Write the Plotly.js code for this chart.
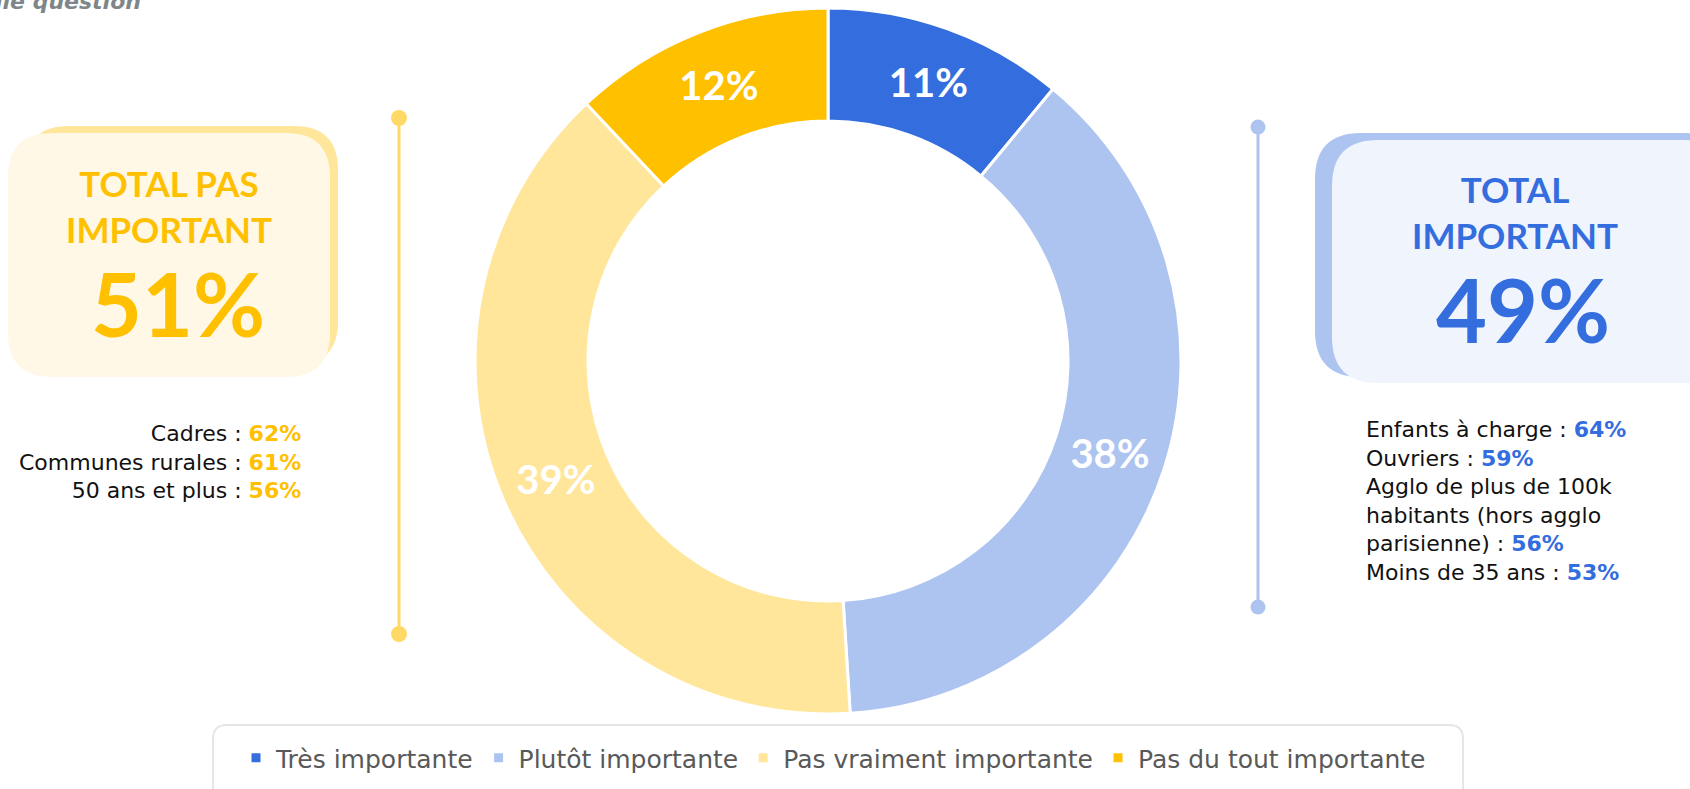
<!DOCTYPE html>
<html>
<head>
<meta charset="utf-8">
<script src="https://cdn.plot.ly/plotly-3.0.1.min.js"></script>
<style>
  html, body { margin: 0; padding: 0; background: #fff; }
  #graph { width: 1690px; height: 789px; }
</style>
</head>
<body>
<div id="graph"></div>
<script>
// answers, in %
var categories = ['Très importante', 'Plutôt importante', 'Pas vraiment importante', 'Pas du tout importante'];
var shares = [11, 38, 39, 12];
var colors = ['#346DDE', '#ADC4F1', '#FFE69A', '#FFC000'];

// sub-groups above average
var pasGroups = ['Cadres', 'Communes rurales', '50 ans et plus'];
var pasValues = [62, 61, 56];
var impGroups = ['Enfants à charge', 'Ouvriers', 'Agglo de plus de 100k<br>habitants (hors agglo<br>parisienne)', 'Moins de 35 ans'];
var impValues = [64, 59, 56, 53];

var W = 1690, H = 789;
var FONT = '"Century Gothic", Lato, "Noto Sans", sans-serif';
var BODY = '"Century Gothic", "DejaVu Sans", sans-serif';
var GOLD = '#FFC000', BLUE = '#346DDE';

function px(x) { return x / W; }
function py(y) { return 1 - y / H; }

// rounded rectangle as a path in paper coords
function roundRect(x0, y0, x1, y1, r) {
  var p = function (x, y) { return px(x) + ',' + py(y); };
  return 'M' + p(x0 + r, y0) + ' L' + p(x1 - r, y0) + ' Q' + p(x1, y0) + ' ' + p(x1, y0 + r) +
    ' L' + p(x1, y1 - r) + ' Q' + p(x1, y1) + ' ' + p(x1 - r, y1) +
    ' L' + p(x0 + r, y1) + ' Q' + p(x0, y1) + ' ' + p(x0, y1 - r) +
    ' L' + p(x0, y0 + r) + ' Q' + p(x0, y0) + ' ' + p(x0 + r, y0) + ' Z';
}
function box(x0, y0, x1, y1, r, fill, line) {
  return { type: 'path', xref: 'paper', yref: 'paper', layer: 'below', path: roundRect(x0, y0, x1, y1, r),
    fillcolor: fill, line: line || { width: 0 } };
}
function vline(x, y0, y1, color) {
  return { type: 'line', xref: 'paper', yref: 'paper', x0: px(x), x1: px(x), y0: py(y0), y1: py(y1),
    line: { color: color, width: 3 } };
}
function dot(x, y, r, color) {
  return { type: 'circle', xref: 'paper', yref: 'paper', x0: px(x - r), x1: px(x + r), y0: py(y + r), y1: py(y - r),
    fillcolor: color, line: { width: 0 } };
}
function groupLines(groups, values, color) {
  return groups.map(function (g, i) {
    return g + ' : <b><span style="color:' + color + '">' + values[i] + '%</span></b>';
  }).join('<br>');
}

var totalImp = shares[0] + shares[1];
var totalPas = shares[2] + shares[3];

var data = [{
  type: 'pie',
  labels: categories,
  values: shares,
  sort: false,
  direction: 'clockwise',
  rotation: 0,
  hole: 0.68,
  marker: { colors: colors, line: { color: '#ffffff', width: 3 } },
  texttemplate: '%{value}%',
  textposition: 'inside',
  insidetextorientation: 'horizontal',
  textfont: { color: '#ffffff', size: 40, family: FONT, weight: 'bold' },
  hoverinfo: 'label+value',
  domain: { x: [px(475), px(1181)], y: [py(715), py(7)] }
}];

var shapes = [
  // legend frame
  box(213, 725, 1463, 805, 14, '#ffffff', { color: '#E6E6E6', width: 2 }),
  // left card
  box(25, 126, 338, 365, 44, '#FFE69A'),
  box(8, 133, 330, 377, 44, '#FFF8E6'),
  // right card
  box(1315, 133, 1730, 377, 46, '#ADC4F1'),
  box(1332, 140, 1730, 383, 46, '#EFF4FD'),
  vline(399, 118, 634, '#FFD966'),
  dot(399, 118, 8, '#FFD966'),
  dot(399, 634, 8, '#FFD966'),
  vline(1258, 127, 607, '#ADC4F1'),
  dot(1258, 127, 7.5, '#ADC4F1'),
  dot(1258, 607, 7.5, '#ADC4F1')
];

function note(text, x, y, opts) {
  var a = { text: text, x: px(x), y: py(y), xref: 'paper', yref: 'paper', showarrow: false,
    xanchor: 'center', yanchor: 'middle', font: { family: BODY, size: 22, color: '#111111' } };
  for (var k in opts) a[k] = opts[k];
  return a;
}

var annotations = [
  note('<b><i>ile question</i></b>', -7, 1, { xanchor: 'left', font: { family: BODY, size: 22, color: '#7F868A' } }),
  note('<b>TOTAL PAS<br>IMPORTANT</b>', 169, 206, { font: { family: FONT, size: 35, color: GOLD } }),
  note('<b>' + totalPas + '%</b>', 178, 303, { font: { family: FONT, size: 88, color: GOLD } }),
  note('<b>TOTAL<br>IMPORTANT</b>', 1515, 212, { font: { family: FONT, size: 35, color: BLUE } }),
  note('<b>' + totalImp + '%</b>', 1523, 309, { font: { family: FONT, size: 88, color: BLUE } }),
  note(groupLines(pasGroups, pasValues, GOLD), 303, 462, { xanchor: 'right', align: 'right' }),
  note(groupLines(impGroups, impValues, BLUE), 1364, 501, { xanchor: 'left', align: 'left' })
];

var layout = {
  width: W,
  height: H,
  margin: { l: 0, r: 0, t: 0, b: 0 },
  paper_bgcolor: '#ffffff',
  showlegend: true,
  legend: {
    orientation: 'h',
    x: px(236), xanchor: 'left',
    y: py(758), yanchor: 'middle',
    bgcolor: 'rgba(0,0,0,0)',
    itemwidth: 30,
    font: { family: BODY, size: 25, color: '#595959' }
  },
  shapes: shapes,
  annotations: annotations
};

Plotly.newPlot('graph', data, layout, { displayModeBar: false });
</script>
</body>
</html>
